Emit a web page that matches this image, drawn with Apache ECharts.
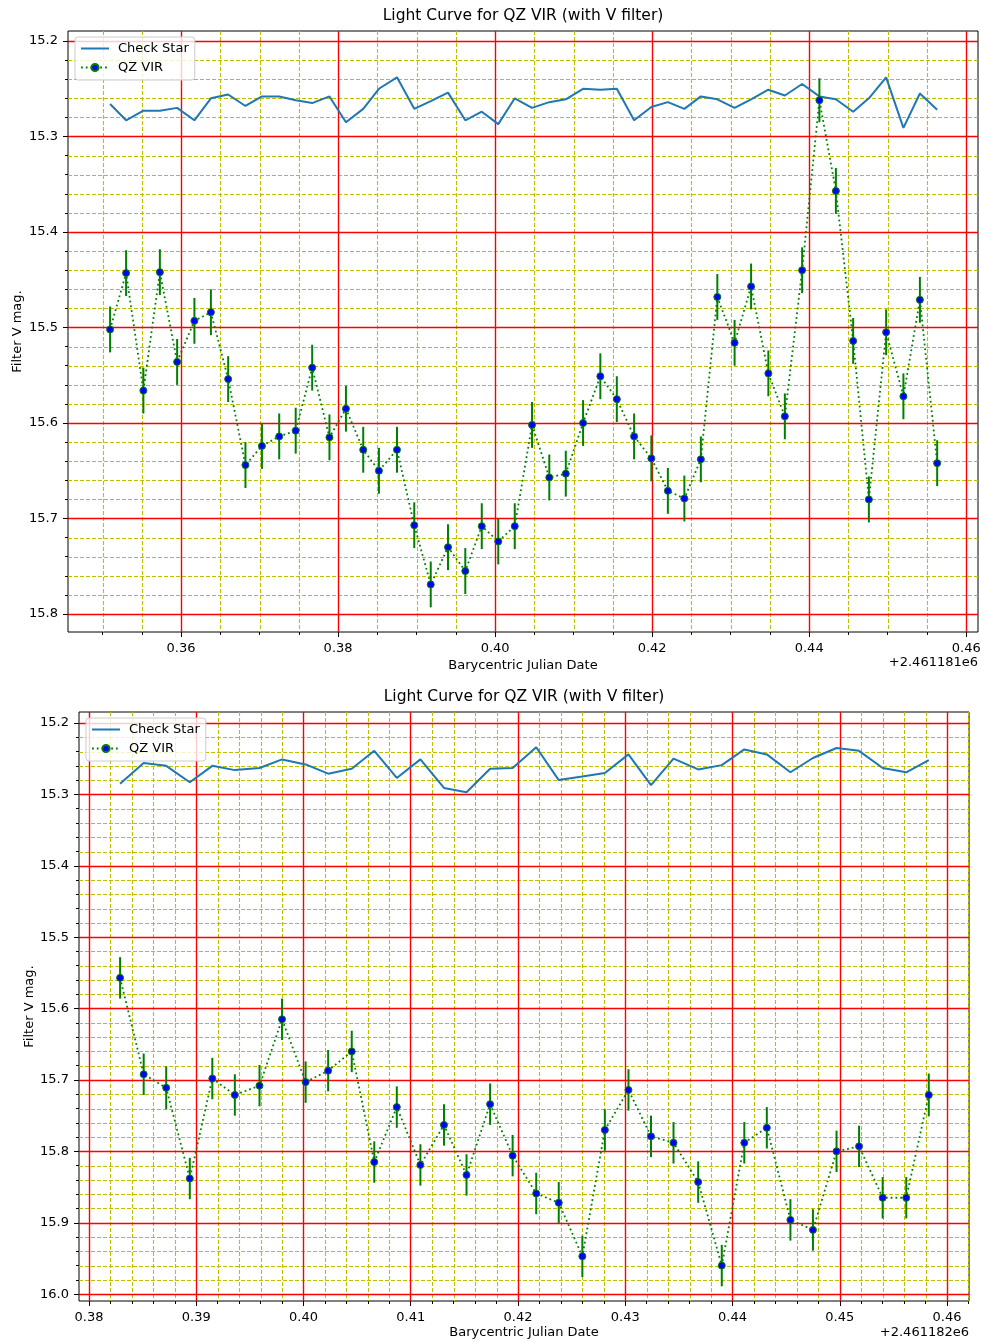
<!DOCTYPE html>
<html>
<head>
<meta charset="utf-8">
<title>Light Curve for QZ VIR</title>
<script src="https://cdn.jsdelivr.net/npm/echarts@6/dist/echarts.min.js"></script>
<style>
  html, body { margin: 0; padding: 0; background: #ffffff; }
  #main { width: 981px; height: 1342px; }
</style>
</head>
<body>
<div id="main"></div>
<script>
// ---- Session 1 (JD 2461181.x) -------------------------------------------
const topOffsetLabel = '+2.461181e6';
const topTimes = [
  0.35096, 0.3530, 0.3552, 0.3573, 0.3595, 0.3617, 0.3638, 0.3660, 0.3682, 0.3703,
  0.3725, 0.3746, 0.3767, 0.3789, 0.3810, 0.3832, 0.3852, 0.3875, 0.3897, 0.3918,
  0.3940, 0.3962, 0.3983, 0.4004, 0.4025, 0.4047, 0.4069, 0.4090, 0.4112, 0.4134,
  0.4155, 0.4177, 0.4199, 0.4220, 0.4241, 0.4262, 0.4283, 0.4305, 0.4326, 0.4348,
  0.4369, 0.4391, 0.4413, 0.4434, 0.4456, 0.4476, 0.4498, 0.4520, 0.4541, 0.4563
];
const topCheckMag = [
  15.266, 15.283, 15.273, 15.273, 15.270, 15.283, 15.260, 15.256, 15.268, 15.258,
  15.258, 15.262, 15.265, 15.258, 15.285, 15.271, 15.250, 15.238, 15.271, 15.263,
  15.254, 15.283, 15.274, 15.287, 15.260, 15.270, 15.264, 15.261, 15.250, 15.251,
  15.250, 15.283, 15.269, 15.264, 15.271, 15.258, 15.261, 15.270, 15.261, 15.251,
  15.257, 15.245, 15.258, 15.261, 15.274, 15.260, 15.238, 15.291, 15.255, 15.272
];
const topTargetMag = [
  15.502, 15.443, 15.566, 15.442, 15.536, 15.493, 15.484, 15.554, 15.644, 15.624,
  15.614, 15.608, 15.542, 15.615, 15.585, 15.628, 15.650, 15.628, 15.707, 15.769,
  15.730, 15.755, 15.708, 15.724, 15.708, 15.602, 15.657, 15.653, 15.600, 15.551,
  15.575, 15.614, 15.637, 15.671, 15.679, 15.638, 15.468, 15.516, 15.457, 15.548,
  15.593, 15.440, 15.262, 15.357, 15.514, 15.680, 15.505, 15.572, 15.471, 15.642
];
const topTargetErr = [
  0.024, 0.024, 0.024, 0.024, 0.024, 0.024, 0.024, 0.024, 0.024, 0.024,
  0.024, 0.024, 0.024, 0.024, 0.024, 0.024, 0.024, 0.024, 0.024, 0.024,
  0.024, 0.024, 0.024, 0.024, 0.024, 0.024, 0.024, 0.024, 0.024, 0.024,
  0.024, 0.024, 0.024, 0.024, 0.024, 0.024, 0.024, 0.024, 0.024, 0.024,
  0.024, 0.024, 0.023, 0.024, 0.024, 0.024, 0.024, 0.024, 0.024, 0.024
];
const topXTicks = [0.36, 0.38, 0.40, 0.42, 0.44, 0.46];
const topYTicks = [15.2, 15.3, 15.4, 15.5, 15.6, 15.7, 15.8];
const topXRange = [0.3456, 0.4615];
const topYRange = [15.1895, 15.8188];

// ---- Session 2 (JD 2461182.x) -------------------------------------------
const bottomOffsetLabel = '+2.461182e6';
const bottomTimes = [
  0.3829, 0.3851, 0.3872, 0.3894, 0.3915, 0.3936, 0.3959, 0.3980, 0.4002, 0.4023,
  0.4045, 0.4066, 0.4087, 0.4109, 0.4131, 0.4152, 0.4174, 0.4195, 0.4217, 0.4238,
  0.4260, 0.4281, 0.4303, 0.4324, 0.4345, 0.4368, 0.4390, 0.4411, 0.4432, 0.4454,
  0.4475, 0.4497, 0.4518, 0.4540, 0.4562, 0.4583
];
const bottomCheckMag = [
  15.285, 15.256, 15.260, 15.283, 15.260, 15.266, 15.263, 15.251, 15.258, 15.271,
  15.264, 15.239, 15.277, 15.251, 15.291, 15.297, 15.264, 15.263, 15.234, 15.280,
  15.275, 15.270, 15.244, 15.287, 15.250, 15.265, 15.259, 15.237, 15.244, 15.269,
  15.249, 15.235, 15.239, 15.263, 15.269, 15.252
];
const bottomTargetMag = [
  15.557, 15.692, 15.711, 15.838, 15.698, 15.721, 15.708, 15.615, 15.703, 15.687,
  15.660, 15.815, 15.738, 15.819, 15.763, 15.833, 15.734, 15.806, 15.859, 15.872,
  15.947, 15.770, 15.714, 15.779, 15.788, 15.843, 15.960, 15.788, 15.767, 15.896,
  15.910, 15.800, 15.793, 15.865, 15.865, 15.721
];
const bottomTargetErr = [
  0.029, 0.029, 0.030, 0.029, 0.029, 0.029, 0.029, 0.029, 0.029, 0.029,
  0.029, 0.029, 0.029, 0.029, 0.029, 0.029, 0.029, 0.029, 0.029, 0.029,
  0.029, 0.029, 0.029, 0.029, 0.029, 0.029, 0.029, 0.029, 0.029, 0.029,
  0.029, 0.029, 0.029, 0.029, 0.029, 0.030
];
const bottomXTicks = [0.38, 0.39, 0.40, 0.41, 0.42, 0.43, 0.44, 0.45, 0.46];
const bottomYTicks = [15.2, 15.3, 15.4, 15.5, 15.6, 15.7, 15.8, 15.9, 16.0];
const bottomXRange = [0.37907, 0.46205];
const bottomYRange = [15.1846, 16.0096];

// Minor grid spacing
const topXMinorStep = 0.005;
const bottomXMinorStep = 0.002;
const yMinorStep = 0.02;

const chartTitle = 'Light Curve for QZ VIR (with V filter)';
const xAxisTitle = 'Barycentric Julian Date';
const yAxisTitle = 'Filter V mag.';
const checkName = 'Check Star';
const targetName = 'QZ VIR';

const FONT = '"DejaVu Sans", "Liberation Sans", sans-serif';
const RED = '#ff0000';
const OLIVE = '#bfbf00';
const C_BLUE = '#1f77b4';
const GREEN = '#008000';

// Minor positions inside a range, skipping the major ones
function minorTicks(range, step, majors) {
  const out = [];
  const start = Math.ceil(range[0] / step - 1e-9);
  const end = Math.floor(range[1] / step + 1e-9);
  for (let k = start; k <= end; k++) {
    const v = +(k * step).toFixed(6);
    if (!majors.some(m => Math.abs(m - v) < step / 10)) out.push(v);
  }
  return out;
}

// Major axis (labels, ticks, red grid) + minor axis (short ticks only)
function axisPair(isX, gridIndex, range, majors, minors, name, nameGap) {
  const common = {
    type: 'value', gridIndex, min: range[0], max: range[1],
    inverse: !isX, position: isX ? 'bottom' : 'left',
    axisLine: { show: false, onZero: false }
  };
  const major = Object.assign({}, common, {
    z: 2,
    axisTick: { show: true, customValues: majors, length: 5, lineStyle: { color: '#000', width: 1 } },
    axisLabel: {
      show: true, customValues: majors, margin: 10,
      formatter: v => v.toFixed(isX ? 2 : 1),
      color: '#000', fontSize: 13, fontFamily: FONT
    },
    splitLine: { show: true, lineStyle: { color: [RED], width: 1.4 } },
    name: name, nameLocation: 'middle', nameGap: nameGap, nameMoveOverlap: false,
    nameTextStyle: { color: '#000', fontSize: 13, fontFamily: FONT }
  });
  const minor = Object.assign({}, common, {
    z: 2,
    axisTick: { show: true, customValues: minors, length: 3, lineStyle: { color: '#000', width: 1 } },
    axisLabel: { show: false },
    splitLine: { show: false }
  });
  return [major, minor];
}

// Dashed minor grid: item = [direction, value]; 0 → vertical at x, 1 → horizontal at y
function minorGridItem(params, api) {
  const cs = params.coordSys;
  const dir = api.value(0);
  const v = api.value(1);
  let shape;
  if (dir === 0) {
    const px = Math.round(api.coord([v, 0])[0]) + 0.5;
    shape = { x1: px, y1: cs.y, x2: px, y2: cs.y + cs.height };
  } else {
    const py = Math.round(api.coord([0, v])[1]) + 0.5;
    shape = { x1: cs.x, y1: py, x2: cs.x + cs.width, y2: py };
  }
  return { type: 'line', shape, style: { stroke: OLIVE, lineWidth: 1.1, lineDash: [4, 2] } };
}

function errorBarItem(params, api) {
  const x = api.value(0);
  const y = api.value(1);
  const e = api.value(2);
  const a = api.coord([x, y - e]);
  const b = api.coord([x, y + e]);
  return {
    type: 'line',
    shape: { x1: a[0], y1: a[1], x2: b[0], y2: b[1] },
    style: { stroke: GREEN, lineWidth: 2 }
  };
}

function panelSeries(axisIndex, xMinors, yMinors, times, check, target, err) {
  const gridData = xMinors.map(v => [0, v]).concat(yMinors.map(v => [1, v]));
  return [
    {
      name: 'minor grid', type: 'custom', silent: true,
      xAxisIndex: axisIndex, yAxisIndex: axisIndex, coordinateSystem: 'cartesian2d',
      data: gridData, renderItem: minorGridItem, z: 1, clip: false
    },
    {
      name: checkName, type: 'line', xAxisIndex: axisIndex, yAxisIndex: axisIndex,
      data: times.map((t, i) => [t, check[i]]),
      symbol: 'none', z: 3,
      lineStyle: { color: C_BLUE, width: 2 },
      itemStyle: { color: C_BLUE },
      emphasis: { disabled: true }
    },
    {
      name: targetName, type: 'line', xAxisIndex: axisIndex, yAxisIndex: axisIndex,
      data: times.map((t, i) => [t, target[i]]),
      symbol: 'circle', symbolSize: 7, showSymbol: true, z: 5,
      lineStyle: { color: GREEN, width: 1.8, type: [1.8, 3] },
      itemStyle: { color: '#0000ff', borderColor: GREEN, borderWidth: 1 },
      emphasis: { disabled: true }
    },
    {
      name: targetName, type: 'custom', xAxisIndex: axisIndex, yAxisIndex: axisIndex,
      coordinateSystem: 'cartesian2d',
      data: times.map((t, i) => [t, target[i], err[i]]),
      encode: { x: 0, y: 1 },
      renderItem: errorBarItem, z: 4,
      itemStyle: { color: GREEN }
    }
  ];
}

const legendBase = {
  orient: 'vertical',
  data: [
    { name: checkName, icon: 'path://M0 0H28V2H0Z' },
    { name: targetName }
  ],
  itemWidth: 28, itemHeight: 9, itemGap: 6, symbolKeepAspect: true,
  padding: [5, 6, 6, 5],
  backgroundColor: 'rgba(255,255,255,0.8)',
  borderColor: '#cccccc', borderWidth: 1, borderRadius: 3,
  textStyle: { color: '#000', fontSize: 13, fontFamily: FONT, padding: [0, 0, 0, 4] }
};

const topXMinors = minorTicks(topXRange, topXMinorStep, topXTicks);
const topYMinors = minorTicks(topYRange, yMinorStep, topYTicks);
const botXMinors = minorTicks(bottomXRange, bottomXMinorStep, bottomXTicks);
const botYMinors = minorTicks(bottomYRange, yMinorStep, bottomYTicks);

const topX = axisPair(true, 0, topXRange, topXTicks, topXMinors, xAxisTitle, 27);
const topY = axisPair(false, 0, topYRange, topYTicks, topYMinors, yAxisTitle, 44);
const botX = axisPair(true, 1, bottomXRange, bottomXTicks, botXMinors, xAxisTitle, 25);
const botY = axisPair(false, 1, bottomYRange, bottomYTicks, botYMinors, yAxisTitle, 43);

const option = {
  animation: false,
  backgroundColor: '#ffffff',
  textStyle: { fontFamily: FONT },
  title: [
    { text: chartTitle, left: 523, top: 8, textAlign: 'center', padding: 0,
      textStyle: { color: '#000', fontSize: 15.5, fontWeight: 'normal', fontFamily: FONT } },
    { text: chartTitle, left: 524, top: 689, textAlign: 'center', padding: 0,
      textStyle: { color: '#000', fontSize: 15.5, fontWeight: 'normal', fontFamily: FONT } }
  ],
  legend: [
    Object.assign({}, legendBase, { left: 75, top: 37 }),
    Object.assign({}, legendBase, { left: 86, top: 718 })
  ],
  grid: [
    { left: 68, top: 31, width: 910, height: 601, show: true,
      borderColor: '#000', borderWidth: 1, backgroundColor: '#fff', outerBoundsMode: 'none' },
    { left: 79, top: 712, width: 890, height: 589, show: true,
      borderColor: '#000', borderWidth: 1, backgroundColor: '#fff', outerBoundsMode: 'none' }
  ],
  xAxis: [topX[0], topX[1], botX[0], botX[1]],
  yAxis: [topY[0], topY[1], botY[0], botY[1]],
  graphic: [
    { type: 'text', x: 978, y: 663,
      style: { text: topOffsetLabel, font: '13px ' + FONT, fill: '#000', align: 'right', verticalAlign: 'middle' } },
    { type: 'text', x: 969, y: 1333,
      style: { text: bottomOffsetLabel, font: '13px ' + FONT, fill: '#000', align: 'right', verticalAlign: 'middle' } }
  ],
  series: [].concat(
    panelSeries(0, topXMinors, topYMinors, topTimes, topCheckMag, topTargetMag, topTargetErr),
    panelSeries(2, botXMinors, botYMinors, bottomTimes, bottomCheckMag, bottomTargetMag, bottomTargetErr)
  )
};

const chart = echarts.init(document.getElementById('main'), null, { renderer: 'canvas' });
chart.setOption(option);
</script>
</body>
</html>
